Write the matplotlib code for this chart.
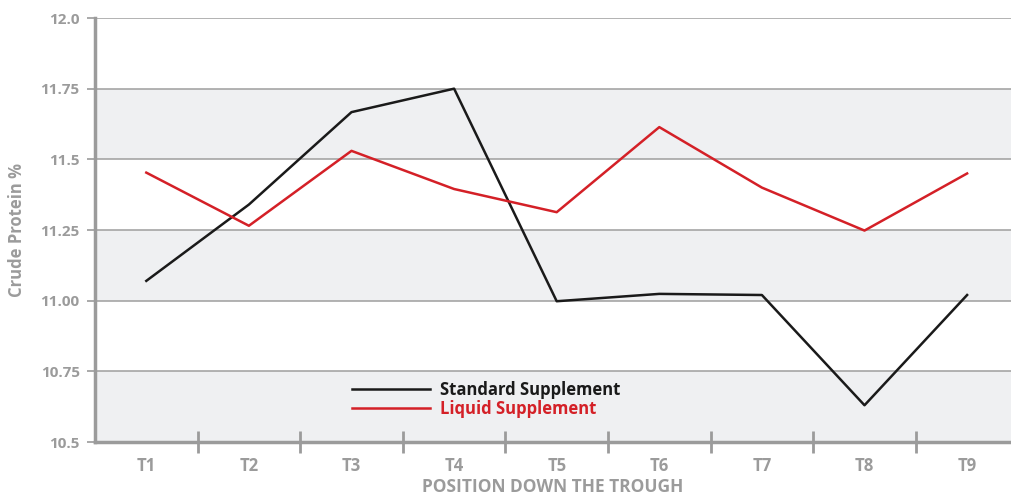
import matplotlib
matplotlib.use("Agg")
import matplotlib.pyplot as plt
import numpy as np

categories = ["T1", "T2", "T3", "T4", "T5", "T6", "T7", "T8", "T9"]
standard = [11.07, 11.34, 11.667, 11.75, 10.998, 11.024, 11.02, 10.63, 11.02]
liquid = [11.453, 11.265, 11.53, 11.395, 11.313, 11.614, 11.40, 11.248, 11.45]
yticks = [10.5, 10.75, 11.0, 11.25, 11.5, 11.75, 12.0]
ylabels = ["10.5", "10.75", "11.00", "11.25", "11.5", "11.75", "12.0"]

plt.rcParams['font.family'] = ['Open Sans', 'DejaVu Sans']
GRAY = "#9b9b9b"
BAND = "#eff0f2"
RED = "#d42027"
BLACK = "#1a1a1a"

W, H = 1011, 497
fig = plt.figure(figsize=(W/100, H/100), dpi=100)
left, bottom, top = 95, 442, 18
ax = fig.add_axes([left/W, (H-bottom)/H, (W-left)/W, (bottom-top)/H])
ax.set_ylim(10.5, 12.0)
ax.set_xlim(-0.5, -0.5 + (W-left)/102.6)

# bands
for i in range(len(yticks)-1):
    if i % 2 == 0:
        ax.axhspan(yticks[i], yticks[i+1], color=BAND, zorder=0, lw=0)
for yv in yticks[1:]:
    ax.axhline(yv, color="#a5a5a5", lw=1.2, zorder=1)

x = np.arange(len(categories))
ax.plot(x, standard, color=BLACK, lw=1.8, zorder=3, label="Standard Supplement")
ax.plot(x, liquid, color=RED, lw=1.8, zorder=3, label="Liquid Supplement")

for s in ["top", "right"]:
    ax.spines[s].set_visible(False)
ax.spines["left"].set_color(GRAY)
ax.spines["left"].set_linewidth(2.5)
ax.spines["bottom"].set_color(GRAY)
ax.spines["bottom"].set_linewidth(2.5)

ax.set_yticks(yticks)
ax.set_yticklabels(ylabels)
ax.tick_params(axis='y', length=6, width=1.2, color=GRAY, labelcolor=GRAY, labelsize=11, pad=5)
for t in ax.get_yticklabels():
    t.set_fontweight('bold')

ax.set_xticks(x)
ax.set_xticklabels(categories)
ax.tick_params(axis='x', which='major', length=0, labelcolor=GRAY, labelsize=12, pad=11)
for t in ax.get_xticklabels():
    t.set_fontweight('bold')
ax.set_xticks(x[:-1] + 0.5, minor=True)
ax.tick_params(axis='x', which='minor', length=16, width=2, color=GRAY, direction='inout')

ax.set_ylabel("Crude Protein %", color=GRAY, fontsize=12, fontweight='bold')
ax.yaxis.set_label_coords(-69 / (W-left), 0.5)
ax.set_xlabel("POSITION DOWN THE TROUGH", color=GRAY, fontsize=12.5, fontweight='bold', labelpad=2)

leg = ax.legend(loc='upper left', bbox_to_anchor=((352-left)/(W-left), (bottom-381)/(bottom-top)),
                frameon=False, fontsize=12, handlelength=4.7, handletextpad=0.6,
                labelspacing=0.05, borderpad=0, borderaxespad=0)
for txt, col in zip(leg.get_texts(), [BLACK, RED]):
    txt.set_color(col)
    txt.set_fontweight('bold')

fig.savefig("out.png", dpi=100)
